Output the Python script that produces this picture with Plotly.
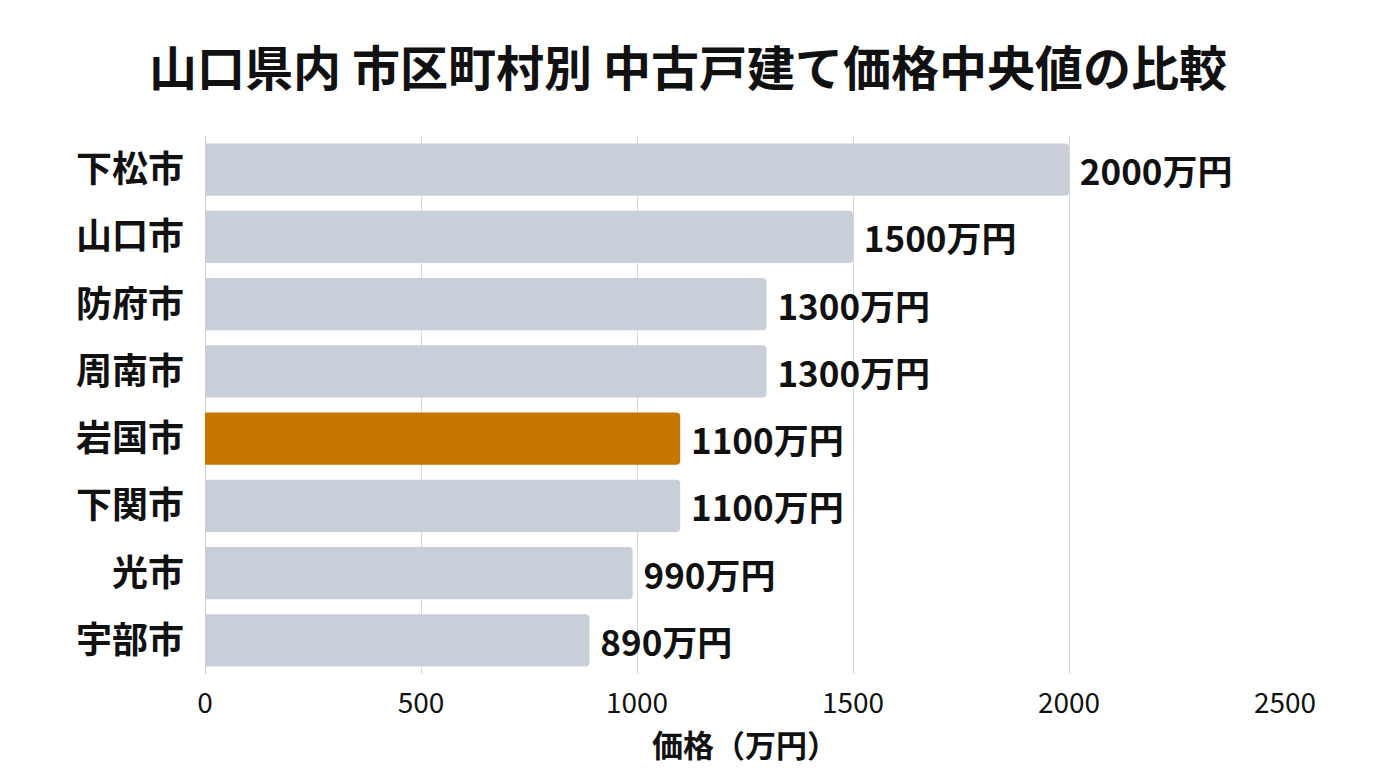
import plotly.graph_objects as go

cities = ["下松市", "山口市", "防府市", "周南市", "岩国市", "下関市", "光市", "宇部市"]
prices = [2000, 1500, 1300, 1300, 1100, 1100, 990, 890]
highlight_city = "岩国市"
x_ticks = [0, 500, 1000, 1500, 2000, 2500]

FONT = "Noto Sans CJK JP"
base_color = "#c9cfd9"
hi_color = "#c67500"

colors = [hi_color if c == highlight_city else base_color for c in cities]
labels = [f"\u00a0<b>{v}万円</b>" for v in prices]

fig = go.Figure(go.Bar(
    x=prices, y=cities, orientation="h",
    marker=dict(color=colors, line=dict(width=0)),
    text=labels, textposition="outside",
    textfont=dict(family=FONT, size=35, color="#111111"),
    cliponaxis=False,
    hoverinfo="skip",
))

fig.update_layout(
    width=1376, height=768,
    paper_bgcolor="white", plot_bgcolor="white",
    margin=dict(l=205, r=91, t=136, b=94),
    bargap=0.22,
    barcornerradius=4,
    font=dict(family=FONT, color="#111111"),
    title=dict(
        text="<b>山口県内 市区町村別 中古戸建て価格中央値の比較</b>",
        font=dict(family=FONT, size=48, color="#111111"),
        x=0.5, xanchor="center", y=1 - 69 / 768, yanchor="middle",
    ),
    showlegend=False,
)

fig.update_xaxes(
    range=[0, 2500], tickvals=x_ticks,
    showgrid=True, gridcolor="#d8d8d8", gridwidth=1,
    zeroline=True, zerolinecolor="#cccccc", zerolinewidth=1,
    showline=False, ticks="",
    tickfont=dict(family=FONT, size=28, color="#111111"),
    ticklabelstandoff=10,
    automargin=False,
    title=dict(text="<b>価格（万円）</b>", font=dict(family=FONT, size=31, color="#111111"), standoff=13),
)
fig.update_yaxes(
    categoryorder="array", categoryarray=cities, autorange="reversed",
    showgrid=False, showline=False, ticks="",
    tickfont=dict(family=FONT, size=36, color="#111111"),
    ticklabelstandoff=20,
    automargin=False,
    tickprefix="<b>", ticksuffix="</b>",
)

fig.write_html(
    "out.html",
    config={"displayModeBar": False},
    post_script="document.body.style.margin='0';window.dispatchEvent(new Event('resize'));",
)
